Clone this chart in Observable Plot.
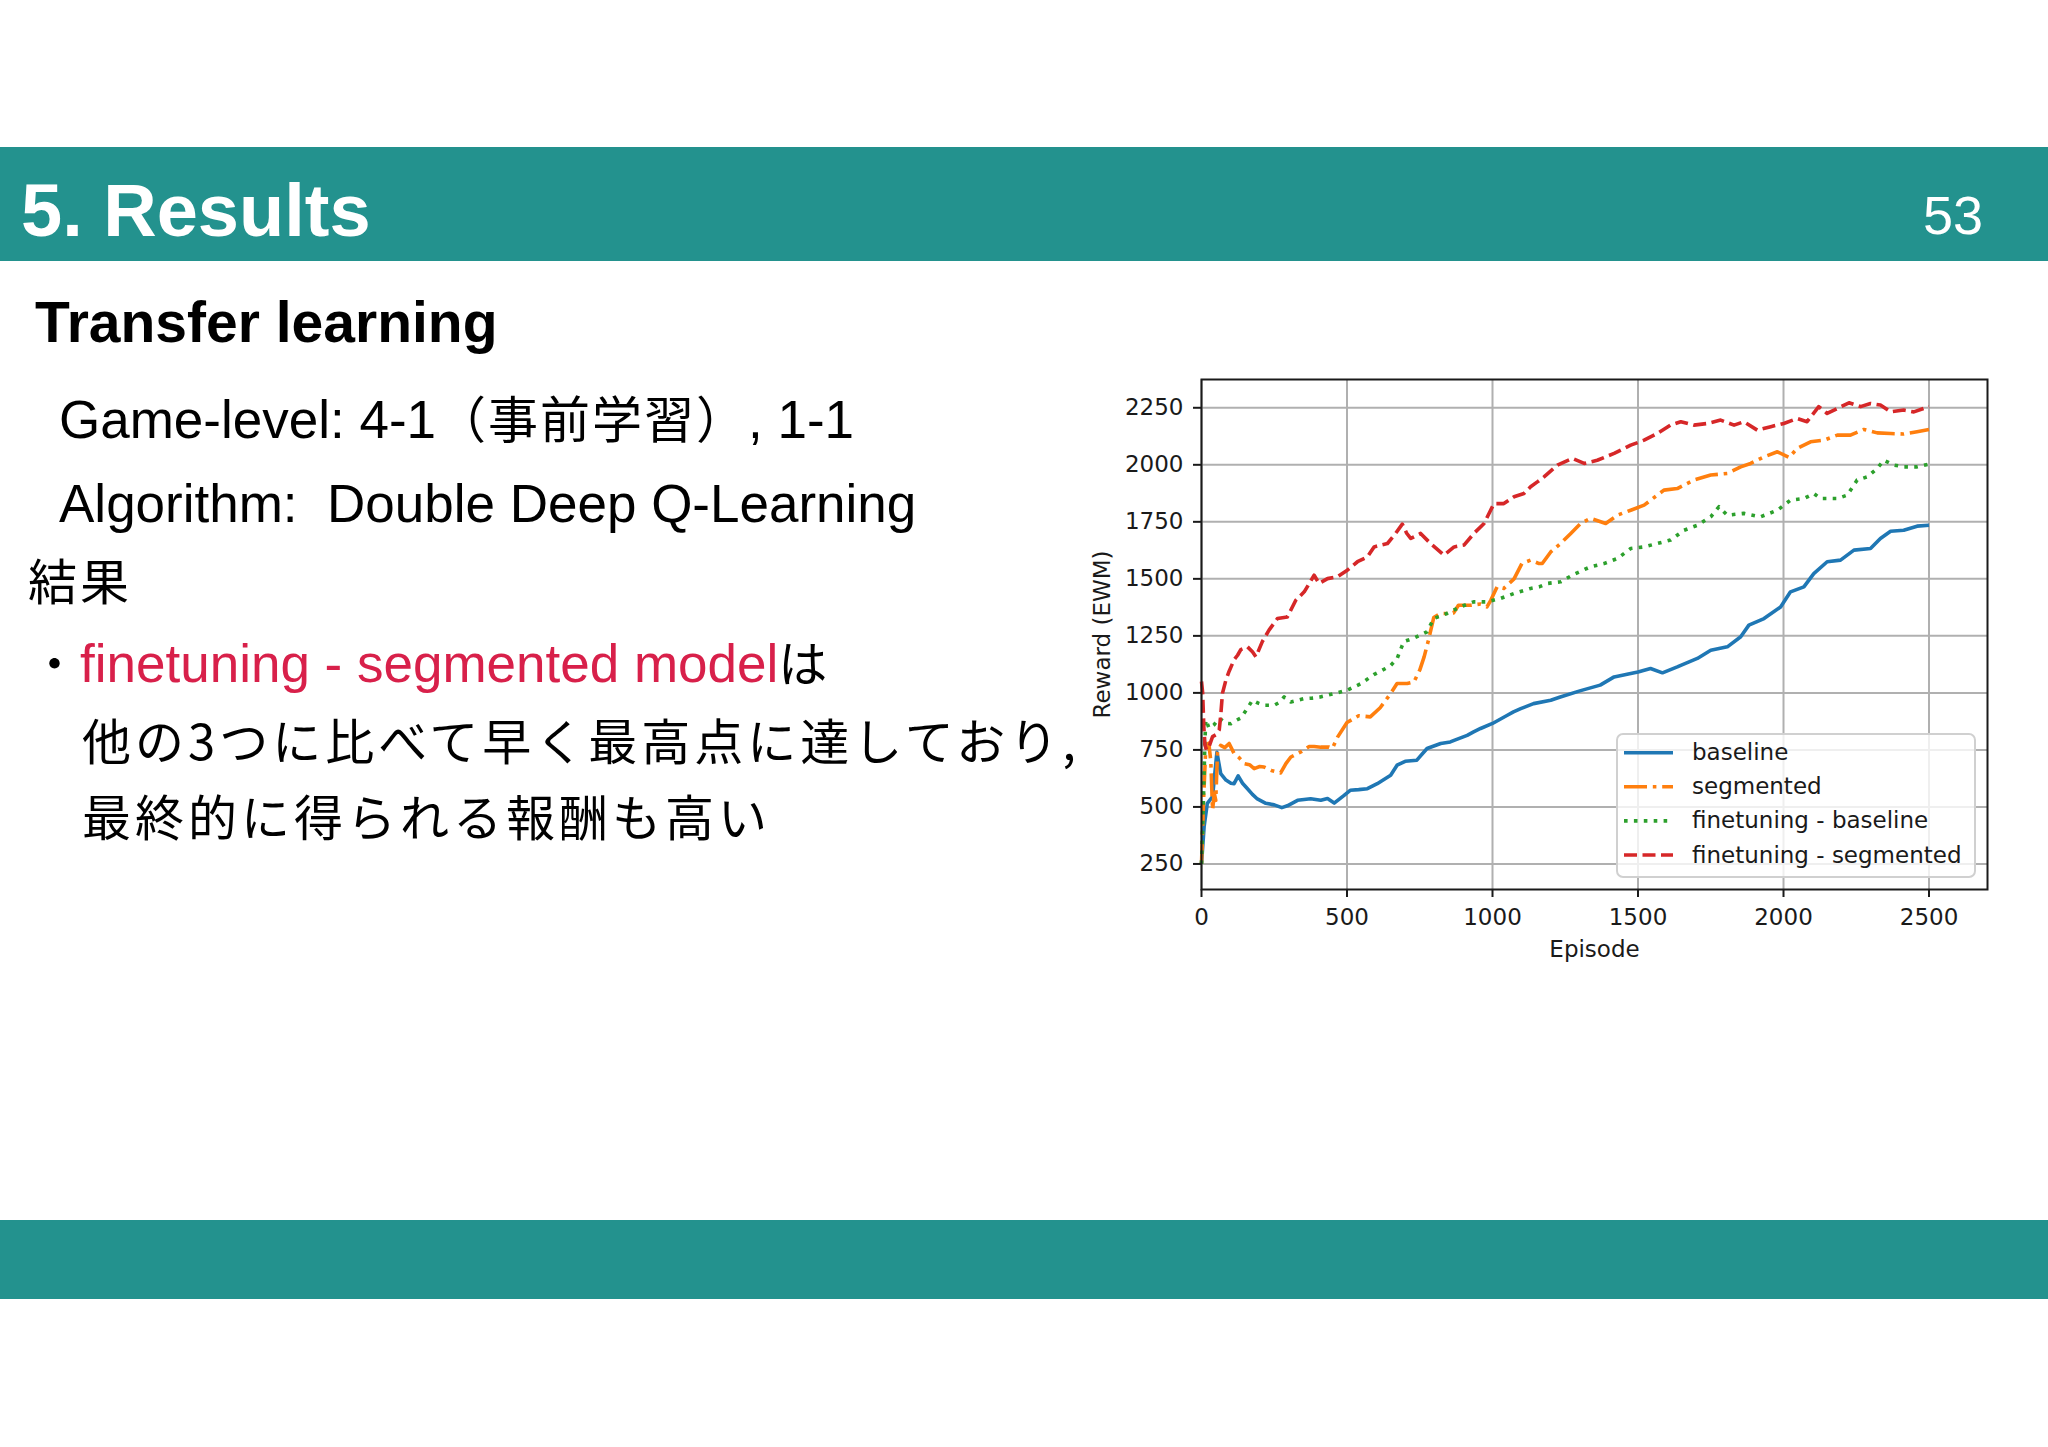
<!DOCTYPE html>
<html>
<head>
<meta charset="utf-8">
<script src="https://cdn.jsdelivr.net/npm/d3@7"></script>
<script src="https://cdn.jsdelivr.net/npm/@observablehq/plot@0.6"></script>
<style>
  html, body { margin: 0; padding: 0; background: #ffffff; }
  #slide { position: relative; width: 2048px; height: 1447px; background: #ffffff; overflow: hidden; }
  #chart { position: absolute; left: 1080px; top: 360px; width: 930px; height: 620px; }
  #legend { position: absolute; left: 1616px; top: 733px; }
  .latin { font-family: "Liberation Sans", Arial, Helvetica, "Noto Sans CJK JP", sans-serif; }
  .cjk { font-family: "Noto Sans CJK JP", "Liberation Sans", sans-serif; }
</style>
</head>
<body>
<div id="slide">
  <svg id="bg" width="2048" height="1447" style="position:absolute;left:0;top:0">
    <rect x="0" y="147" width="2048" height="114" fill="#23928e"></rect>
    <rect x="0" y="1220" width="2048" height="79" fill="#23928e"></rect>
    <text class="latin" x="21" y="236" font-size="74" font-weight="bold" fill="#ffffff">5. Results</text>
    <text class="latin" x="1983" y="234" font-size="54" fill="#ffffff" text-anchor="end">53</text>
    <text class="latin" x="35" y="342" font-size="57" font-weight="bold" fill="#000000">Transfer learning</text>
    <text class="latin" x="59" y="438" font-size="53" fill="#000000">Game-level: 4-1<tspan class="cjk" font-size="50" letter-spacing="2">（事前学習）</tspan>, 1-1</text>
    <text class="latin" x="59" y="522" font-size="53" fill="#000000" style="white-space:pre">Algorithm:  Double Deep Q-Learning</text>
    <text class="cjk" x="28" y="600" font-size="49" letter-spacing="3" fill="#000000">結果</text>
    <text class="cjk" x="30" y="682" font-size="49" fill="#000000">・</text>
    <text class="latin" x="80" y="682" font-size="53" fill="#000000"><tspan fill="#d8204a">finetuning - segmented model</tspan><tspan class="cjk" font-size="49">は</tspan></text>
    <text class="cjk" x="82" y="760" font-size="49" letter-spacing="4" fill="#000000">他の3つに比べて早く最高点に達しており,</text>
    <text class="cjk" x="82" y="836" font-size="49" letter-spacing="4" fill="#000000">最終的に得られる報酬も高い</text>
  </svg>
  <div id="chart"></div>
  <svg id="legend" width="362" height="146"></svg>
</div>
<script>
// ---- data ----
const seriesNames = ["baseline", "segmented", "finetuning - baseline", "finetuning - segmented"];
const seriesColors = ["#1f77b4", "#ff7f0e", "#2ca02c", "#d62728"];
const seriesDashes = [null, "23,5.8,3.6,5.8", "3.6,6.3", "13,5.5"];

const xTicks = [0, 500, 1000, 1500, 2000, 2500];
const yTicks = [250, 500, 750, 1000, 1250, 1500, 1750, 2000, 2250];
const xLabel = "Episode";
const yLabel = "Reward (EWM)";

const baselineEpisode = [0, 9, 20, 38, 53, 66, 84, 101, 112, 126, 141, 158, 175, 192, 221, 250, 276, 295, 330, 375, 410, 433, 456, 490, 511, 540, 570, 604, 650, 672, 700, 740, 775, 822, 855, 868, 913, 935, 959, 1000, 1051, 1072, 1097, 1141, 1200, 1233, 1303, 1370, 1418, 1475, 1500, 1543, 1584, 1635, 1647, 1704, 1750, 1807, 1853, 1881, 1933, 1990, 2024, 2070, 2104, 2150, 2196, 2242, 2299, 2333, 2368, 2413, 2459, 2500];
const baselineReward = [250, 414, 516, 545, 740, 646, 618, 604, 602, 636, 604, 580, 555, 535, 516, 509, 497, 505, 529, 536, 529, 537, 517, 551, 573, 576, 580, 602, 639, 683, 700, 705, 756, 778, 785, 792, 814, 829, 844, 866, 902, 917, 931, 953, 968, 982, 1010, 1034, 1070, 1085, 1092, 1107, 1088, 1114, 1121, 1151, 1187, 1202, 1246, 1297, 1326, 1377, 1443, 1465, 1523, 1575, 1582, 1626, 1633, 1677, 1709, 1713, 1731, 1735];

const segmentedEpisode = [0, 8, 15, 25, 32, 38, 44, 49, 55, 66, 80, 95, 112, 130, 147, 165, 181, 200, 215, 240, 261, 272, 290, 307, 341, 370, 387, 410, 437, 450, 467, 500, 540, 580, 614, 650, 672, 707, 730, 750, 765, 780, 798, 821, 845, 866, 883, 924, 959, 981, 994, 1016, 1039, 1074, 1101, 1131, 1160, 1171, 1200, 1234, 1269, 1303, 1337, 1389, 1429, 1475, 1521, 1589, 1635, 1692, 1750, 1807, 1853, 1887, 1933, 1979, 2019, 2047, 2093, 2139, 2185, 2230, 2276, 2322, 2368, 2413, 2459, 2500];
const segmentedReward = [250, 560, 770, 780, 700, 487, 560, 529, 740, 770, 760, 778, 734, 715, 690, 685, 668, 677, 675, 660, 653, 649, 690, 719, 741, 765, 765, 762, 763, 757, 805, 870, 900, 895, 935, 997, 1041, 1041, 1048, 1100, 1158, 1231, 1330, 1348, 1348, 1350, 1384, 1384, 1390, 1377, 1406, 1465, 1458, 1500, 1567, 1582, 1567, 1567, 1618, 1655, 1699, 1743, 1765, 1743, 1779, 1801, 1823, 1889, 1896, 1933, 1955, 1962, 1991, 2006, 2035, 2057, 2032, 2072, 2101, 2108, 2130, 2130, 2155, 2140, 2137, 2135, 2145, 2155];

const ftBaselineEpisode = [0, 6, 12, 15, 26, 43, 61, 84, 101, 120, 135, 158, 175, 195, 215, 250, 270, 284, 307, 335, 353, 380, 408, 456, 501, 547, 592, 637, 650, 672, 695, 730, 775, 798, 843, 889, 935, 981, 1027, 1074, 1131, 1160, 1189, 1234, 1280, 1337, 1383, 1429, 1475, 1521, 1566, 1612, 1658, 1704, 1750, 1778, 1807, 1864, 1921, 1979, 2024, 2070, 2104, 2127, 2185, 2219, 2253, 2288, 2322, 2345, 2379, 2413, 2459, 2500];
const ftBaselineReward = [250, 500, 800, 882, 845, 860, 889, 867, 865, 880, 890, 933, 968, 955, 946, 946, 960, 982, 960, 969, 975, 977, 982, 997, 1012, 1040, 1080, 1110, 1120, 1150, 1225, 1240, 1268, 1326, 1348, 1377, 1399, 1399, 1414, 1436, 1458, 1465, 1480, 1487, 1520, 1553, 1567, 1589, 1633, 1640, 1655, 1670, 1713, 1735, 1772, 1816, 1779, 1787, 1772, 1801, 1845, 1852, 1874, 1852, 1852, 1867, 1933, 1947, 1984, 2020, 1999, 1991, 1991, 2003];

const ftSegmentedEpisode = [0, 4, 8, 12, 18, 26, 38, 49, 61, 66, 72, 84, 95, 112, 124, 135, 158, 175, 187, 209, 232, 261, 295, 324, 353, 387, 404, 433, 467, 501, 536, 570, 593, 616, 639, 667, 690, 705, 719, 753, 787, 833, 868, 902, 936, 971, 1005, 1039, 1074, 1108, 1131, 1154, 1177, 1223, 1274, 1315, 1360, 1418, 1475, 1521, 1566, 1612, 1647, 1692, 1738, 1784, 1830, 1864, 1910, 1956, 2001, 2047, 2081, 2121, 2150, 2185, 2225, 2265, 2299, 2333, 2368, 2413, 2448, 2500];
const ftSegmentedReward = [1050, 1000, 850, 770, 750, 765, 808, 816, 838, 900, 998, 1057, 1095, 1145, 1165, 1190, 1202, 1180, 1158, 1225, 1275, 1326, 1333, 1406, 1443, 1516, 1480, 1501, 1509, 1538, 1575, 1596, 1640, 1648, 1655, 1699, 1740, 1700, 1677, 1699, 1655, 1604, 1640, 1648, 1699, 1743, 1830, 1830, 1860, 1874, 1904, 1925, 1947, 1999, 2028, 2006, 2020, 2050, 2086, 2108, 2137, 2174, 2189, 2174, 2181, 2196, 2174, 2189, 2152, 2167, 2181, 2203, 2189, 2255, 2225, 2247, 2272, 2255, 2269, 2262, 2232, 2240, 2232, 2255];

// ---- build tables ----
const episodesList = [baselineEpisode, segmentedEpisode, ftBaselineEpisode, ftSegmentedEpisode];
const rewardsList = [baselineReward, segmentedReward, ftBaselineReward, ftSegmentedReward];
const tables = seriesNames.map((name, i) =>
  episodesList[i].map((e, j) => ({series: name, episode: e, reward: rewardsList[i][j]}))
);

const lineMarks = tables.map((rows, i) => Plot.line(rows, {
  x: "episode", y: "reward",
  stroke: seriesColors[i], strokeWidth: 3.6,
  strokeDasharray: seriesDashes[i] || undefined,
  strokeLinecap: "butt", strokeLinejoin: "round"
}));

const fmt = d3.format("d");

const chart = Plot.plot({
  width: 930, height: 620,
  marginLeft: 121, marginRight: 23, marginTop: 19, marginBottom: 91,
  style: {fontFamily: "DejaVu Sans", fontSize: "23px", color: "#1a1a1a", background: "transparent", overflow: "visible"},
  x: {domain: [0, 2701]},
  y: {domain: [138, 2374]},
  marks: [
    Plot.gridX(xTicks, {stroke: "#b0b0b0", strokeOpacity: 1, strokeWidth: 2}),
    Plot.gridY(yTicks, {stroke: "#b0b0b0", strokeOpacity: 1, strokeWidth: 2}),
    ...lineMarks,
    Plot.axisX(xTicks, {tickSize: 8, tickPadding: 11, tickFormat: fmt, label: null, strokeWidth: 2, fontSize: 23}),
    Plot.axisY(yTicks, {tickSize: 8, tickPadding: 10, tickFormat: fmt, label: null, strokeWidth: 2, fontSize: 23}),
    Plot.frame({stroke: "#1a1a1a", strokeWidth: 2}),
    Plot.text([xLabel], {frameAnchor: "bottom", dy: 60, lineAnchor: "middle", textAnchor: "middle", fontSize: 23, fill: "#1a1a1a"}),
    Plot.text([yLabel], {frameAnchor: "left", dx: -99, rotate: -90, lineAnchor: "middle", textAnchor: "middle", fontSize: 23, fill: "#1a1a1a"})
  ]
});
document.getElementById("chart").appendChild(chart);

// ---- legend ----
const ns = "http://www.w3.org/2000/svg";
const leg = document.getElementById("legend");
const box = document.createElementNS(ns, "rect");
box.setAttribute("x", 1); box.setAttribute("y", 1);
box.setAttribute("width", 358); box.setAttribute("height", 143);
box.setAttribute("rx", 6);
box.setAttribute("fill", "#ffffff"); box.setAttribute("fill-opacity", 0.8);
box.setAttribute("stroke", "#d0d0d0"); box.setAttribute("stroke-width", 2);
leg.appendChild(box);
seriesNames.forEach((name, i) => {
  const cy = 19.7 + i * 34.1;
  const ln = document.createElementNS(ns, "line");
  ln.setAttribute("x1", 8); ln.setAttribute("x2", 57);
  ln.setAttribute("y1", cy); ln.setAttribute("y2", cy);
  ln.setAttribute("stroke", seriesColors[i]);
  ln.setAttribute("stroke-width", 3.6);
  if (seriesDashes[i]) ln.setAttribute("stroke-dasharray", seriesDashes[i]);
  leg.appendChild(ln);
  const tx = document.createElementNS(ns, "text");
  tx.setAttribute("x", 76); tx.setAttribute("y", cy + 7.5);
  tx.setAttribute("font-family", "DejaVu Sans");
  tx.setAttribute("font-size", 23);
  tx.setAttribute("fill", "#1a1a1a");
  tx.textContent = name;
  leg.appendChild(tx);
});
</script>
</body>
</html>
